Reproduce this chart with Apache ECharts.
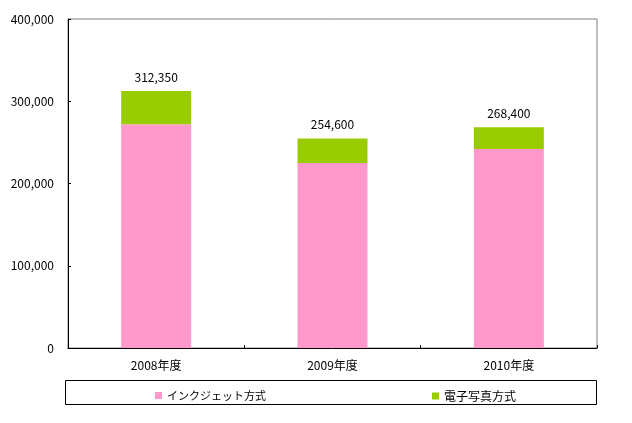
<!DOCTYPE html>
<html>
<head>
<meta charset="utf-8">
<script src="https://cdn.jsdelivr.net/npm/echarts@6/dist/echarts.min.js"></script>
<style>
html,body{margin:0;padding:0;background:#fff;}
#main{width:632px;height:423px;}
</style>
</head>
<body>
<div id="main"></div>
<script>
// 年度
var categories = ['2008年度', '2009年度', '2010年度'];
// インクジェット方式
var inkjet = [272000, 225000, 242000];
// 電子写真方式
var denshi = [40350, 29600, 26400];
var totals = [312350, 254600, 268400];
var yTicks = [0, 100000, 200000, 300000, 400000];

var _font = '"Noto Sans CJK JP", sans-serif';
var mychart = echarts.init(document.getElementById('main'), null, {renderer: 'canvas'});

function fmt(v) {
    return String(v).replace(/\B(?=(\d{3})+(?!\d))/g, ',');
}

var option = {
    animation: false,
    textStyle: {fontFamily: _font},
    grid: {
        left: 68,
        right: 35,
        top: 19,
        bottom: 75,
        show: true,
        borderColor: '#808080',
        borderWidth: 1
    },
    legend: [
        {
            data: ['インクジェット方式'],
            left: 150,
            top: 385,
            icon: 'rect',
            itemWidth: 7,
            itemHeight: 7,
            itemGap: 4,
            textStyle: {color: '#000', fontSize: 11, fontFamily: _font}
        },
        {
            data: ['電子写真方式'],
            left: 427,
            top: 385,
            icon: 'rect',
            itemWidth: 7,
            itemHeight: 7,
            itemGap: 4,
            textStyle: {color: '#000', fontSize: 12, fontFamily: _font}
        }
    ],
    graphic: [
        {
            type: 'rect',
            shape: {x: 65.5, y: 380.5, width: 531, height: 24},
            style: {fill: 'none', stroke: '#000', lineWidth: 1},
            z: -1
        }
    ],
    xAxis: {
        type: 'category',
        data: categories,
        axisLine: {lineStyle: {color: '#000', width: 1}},
        axisTick: {show: true, inside: true, length: 3, lineStyle: {color: '#000'}},
        axisLabel: {color: '#000', fontSize: 12, margin: 11, fontFamily: _font},
        splitLine: {show: false}
    },
    yAxis: {
        type: 'value',
        min: yTicks[0],
        max: yTicks[yTicks.length - 1],
        interval: 100000,
        axisLine: {show: true, lineStyle: {color: '#000', width: 1}},
        axisTick: {show: true, inside: true, length: 3, lineStyle: {color: '#000'}},
        axisLabel: {
            color: '#000',
            fontSize: 12,
            margin: 14,
            fontFamily: _font,
            formatter: function (v) { return fmt(v); }
        },
        splitLine: {show: false}
    },
    series: [
        {
            name: 'インクジェット方式',
            type: 'bar',
            stack: 'total',
            data: inkjet,
            barWidth: 70,
            itemStyle: {color: '#FF99CC'}
        },
        {
            name: '電子写真方式',
            type: 'bar',
            stack: 'total',
            data: denshi,
            barWidth: 70,
            itemStyle: {color: '#99CC00'},
            label: {
                show: true,
                position: 'top',
                distance: 8,
                color: '#000',
                fontSize: 12,
                fontFamily: _font,
                formatter: function (p) { return fmt(totals[p.dataIndex]); }
            }
        }
    ]
};
mychart.setOption(option);
</script>
</body>
</html>
